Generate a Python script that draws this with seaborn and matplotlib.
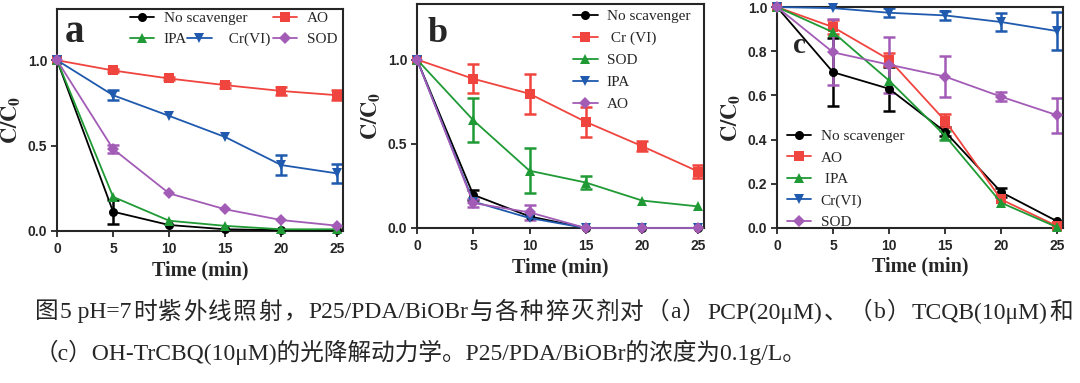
import re
import matplotlib
matplotlib.use("Agg")
import numpy as np
import pandas as pd
import matplotlib.pyplot as plt
import seaborn as sns
from matplotlib.lines import Line2D

sns.set_style("ticks")
plt.rcParams["mathtext.fontset"] = "stix"

# ---- data ----
time = [0, 5, 10, 15, 20, 25]

# (a) PCP
a_names = ["No scavenger", "AO", "IPA", "Cr(VI)", "SOD"]
a_none = [1.0, 0.113, 0.035, 0.010, 0.005, 0.003]
a_ao = [1.0, 0.940, 0.893, 0.854, 0.820, 0.795]
a_ipa = [1.0, 0.200, 0.060, 0.030, 0.010, 0.010]
a_cr = [1.0, 0.795, 0.674, 0.550, 0.386, 0.337]
a_sod = [1.0, 0.480, 0.220, 0.127, 0.064, 0.031]
a_none_err = [0, 0.07, 0, 0, 0, 0]
a_ao_err = [0, 0.01, 0.01, 0.015, 0.025, 0.03]
a_ipa_err = [0, 0, 0, 0, 0, 0]
a_cr_err = [0, 0.03, 0, 0, 0.058, 0.055]
a_sod_err = [0, 0.025, 0, 0, 0, 0]

# (b) TCQB
b_names = ["No scavenger", " Cr (VI)", "SOD", "IPA", "AO"]
b_none = [1.0, 0.197, 0.069, 0.0, 0.0, 0.0]
b_cr = [1.0, 0.886, 0.797, 0.630, 0.486, 0.335]
b_sod = [1.0, 0.640, 0.340, 0.270, 0.163, 0.128]
b_ipa = [1.0, 0.157, 0.059, 0.0, 0.0, 0.0]
b_ao = [1.0, 0.148, 0.093, 0.0, 0.0, 0.0]
b_none_err = [0, 0.03, 0, 0, 0, 0]
b_cr_err = [0, 0.085, 0.12, 0.087, 0.03, 0.04]
b_sod_err = [0, 0.13, 0.134, 0.04, 0, 0]
b_ipa_err = [0, 0, 0, 0, 0, 0]
b_ao_err = [0, 0.025, 0.045, 0, 0, 0]

# (c) OH-TrCBQ
c_names = ["No scavenger", "AO", " IPA", "Cr(VI)", "SOD"]
c_none = [1.0, 0.705, 0.630, 0.435, 0.162, 0.030]
c_ao = [1.0, 0.909, 0.762, 0.485, 0.129, 0.008]
c_ipa = [1.0, 0.886, 0.667, 0.417, 0.114, 0.003]
c_cr = [1.0, 0.995, 0.974, 0.962, 0.932, 0.891]
c_sod = [1.0, 0.795, 0.739, 0.685, 0.594, 0.510]
c_none_err = [0, 0.155, 0.10, 0.02, 0.02, 0]
c_ao_err = [0, 0.03, 0.03, 0.03, 0, 0]
c_ipa_err = [0, 0, 0, 0.02, 0, 0]
c_cr_err = [0, 0, 0.02, 0.02, 0.04, 0.085]
c_sod_err = [0, 0.15, 0.127, 0.093, 0.02, 0.08]

caption1 = "图5 pH=7时紫外线照射，P25/PDA/BiOBr与各种猝灭剂对（a）PCP(20μM)、（b）TCQB(10μM)和"
caption2 = "（c）OH-TrCBQ(10μM)的光降解动力学。P25/PDA/BiOBr的浓度为0.1g/L。"

# ---- styles ----
colors = {"k": "#000000", "r": "#f0443e", "g": "#1f9a35", "b": "#1f5aae", "p": "#a25cb6"}
marks = {"k": "o", "r": "s", "g": "^", "b": "v", "p": "D"}

panels = [
    (a_names, [a_none, a_ao, a_ipa, a_cr, a_sod],
     [a_none_err, a_ao_err, a_ipa_err, a_cr_err, a_sod_err], ["k", "r", "g", "b", "p"]),
    (b_names, [b_none, b_cr, b_sod, b_ipa, b_ao],
     [b_none_err, b_cr_err, b_sod_err, b_ipa_err, b_ao_err], ["k", "r", "g", "b", "p"]),
    (c_names, [c_none, c_ao, c_ipa, c_cr, c_sod],
     [c_none_err, c_ao_err, c_ipa_err, c_cr_err, c_sod_err], ["k", "r", "g", "b", "p"]),
]

fig = plt.figure(figsize=(10.8, 3.83), dpi=100)
rects = [[0.0528, 0.3969, 0.2648, 0.5796],
         [0.3861, 0.4047, 0.2657, 0.5849],
         [0.7194, 0.4047, 0.2648, 0.5770]]
ylims = [(0, 1.3), (0, 1.33), (0, 1.0)]
yticks = [[0, 0.5, 1.0], [0, 0.5, 1.0], [0, 0.2, 0.4, 0.6, 0.8, 1.0]]
letters = [("a", 0.028, 0.896, 28), ("b", 0.038, 0.87, 26), ("c", 0.056, 0.824, 21)]
ylab_x = [-0.118, -0.12, -0.12]

legend_font = {"family": "Liberation Serif", "size": 11}
axes = []
for i, (names, vals, errs, slots) in enumerate(panels):
    ax = fig.add_axes(rects[i])
    axes.append(ax)
    rows = []
    for n, v in zip(names, vals):
        for t, y in zip(time, v):
            rows.append({"time": t, "value": y, "series": n})
    df = pd.DataFrame(rows)
    pal = {n: colors[s] for n, s in zip(names, slots)}
    mk = {n: marks[s] for n, s in zip(names, slots)}
    sns.lineplot(data=df, x="time", y="value", hue="series", style="series",
                 palette=pal, markers=mk, dashes=False, legend=False,
                 linewidth=1.3, markersize=6.5, markeredgewidth=0,
                 clip_on=False, ax=ax, zorder=3)
    for n, v, e, s in zip(names, vals, errs, slots):
        t = np.array(time)
        v = np.array(v)
        e = np.array(e)
        m = e > 0
        if m.any():
            ax.errorbar(t[m], v[m], yerr=e[m], fmt="none", ecolor=colors[s],
                        elinewidth=1.8, capsize=4, capthick=1.8, clip_on=False, zorder=2)
    ax.set_xlim(0, 25.5)
    ax.set_ylim(*ylims[i])
    ax.set_xticks([0, 5, 10, 15, 20, 25])
    ax.set_yticks(yticks[i])
    ax.yaxis.set_major_formatter(matplotlib.ticker.FormatStrFormatter("%.1f"))
    for sp in ax.spines.values():
        sp.set_visible(True)
        sp.set_linewidth(1.5)
    ax.tick_params(direction="out", length=4, width=1.3, labelsize=10, pad=3)
    ax.tick_params(axis="x", pad=4)
    for lab in ax.get_xticklabels() + ax.get_yticklabels():
        lab.set_fontweight("bold")
        lab.set_family("Liberation Sans")
    ax.set_xlabel("Time (min)", fontsize=14.5, fontweight="bold", family="Liberation Serif")
    ax.set_ylabel(r"$\mathbf{C/C_0}$", fontsize=16)
    ax.xaxis.set_label_coords(0.5, -29 / 222)
    ax.yaxis.set_label_coords(ylab_x[i], 0.5)
    L, x, y, fs = letters[i]
    ax.text(x, y, L, transform=ax.transAxes, fontsize=fs, fontweight="bold",
            family="Liberation Serif", ha="left", va="center")


def handles(names, slots):
    return [Line2D([], [], color=colors[s], marker=marks[s], lw=1.3, ms=6.5, mew=0)
            for s in slots], names


leg_kw = dict(frameon=False, prop=legend_font, handlelength=1.6, handletextpad=0.6,
              borderpad=0, borderaxespad=0, labelspacing=0.5, loc="upper left")

# panel a: legend entries spread like the original
ax = axes[0]
h, l = handles(["No scavenger", "IPA"], ["k", "g"])
l1 = ax.legend(h, l, bbox_to_anchor=(0.255, 0.99), **leg_kw)
ax.add_artist(l1)
h, l = handles(["AO", "SOD"], ["r", "p"])
l3 = ax.legend(h, l, bbox_to_anchor=(0.755, 0.99), **leg_kw)
ax.add_artist(l3)
h, l = handles(["  Cr(VI)"], ["b"])
ax.legend(h, l, bbox_to_anchor=(0.455, 0.895), **leg_kw)

h, l = handles(b_names, panels[1][3])
axes[1].legend(h, l, bbox_to_anchor=(0.544, 0.975), **dict(leg_kw, labelspacing=0.54))
h, l = handles(c_names, panels[2][3])
axes[2].legend(h, l, bbox_to_anchor=(0.035, 0.445), **leg_kw)

# caption: first line justified across the full width, second line left aligned
cap_kw = dict(fontsize=17, family=["Liberation Serif", "Noto Sans CJK SC"], va="center", ha="left")
cjk = "\u3000-\u303f\u4e00-\u9fff\uff00-\uffef"
toks = re.findall("[" + cjk + "]|[^" + cjk + "]+", caption1)
rend = fig.canvas.get_renderer()
arts = [fig.text(0, 0.183, t, **cap_kw) for t in toks]
widths = [a.get_window_extent(rend).width for a in arts]
W = fig.bbox.width
gap = (1038 - sum(widths)) / (len(toks) - 1)
xpos = 35.0
for a, w in zip(arts, widths):
    a.set_x(xpos / W)
    xpos += w + gap
fig.text(35 / W, 0.081, caption2, **cap_kw)

fig.savefig("out.png", dpi=100)
